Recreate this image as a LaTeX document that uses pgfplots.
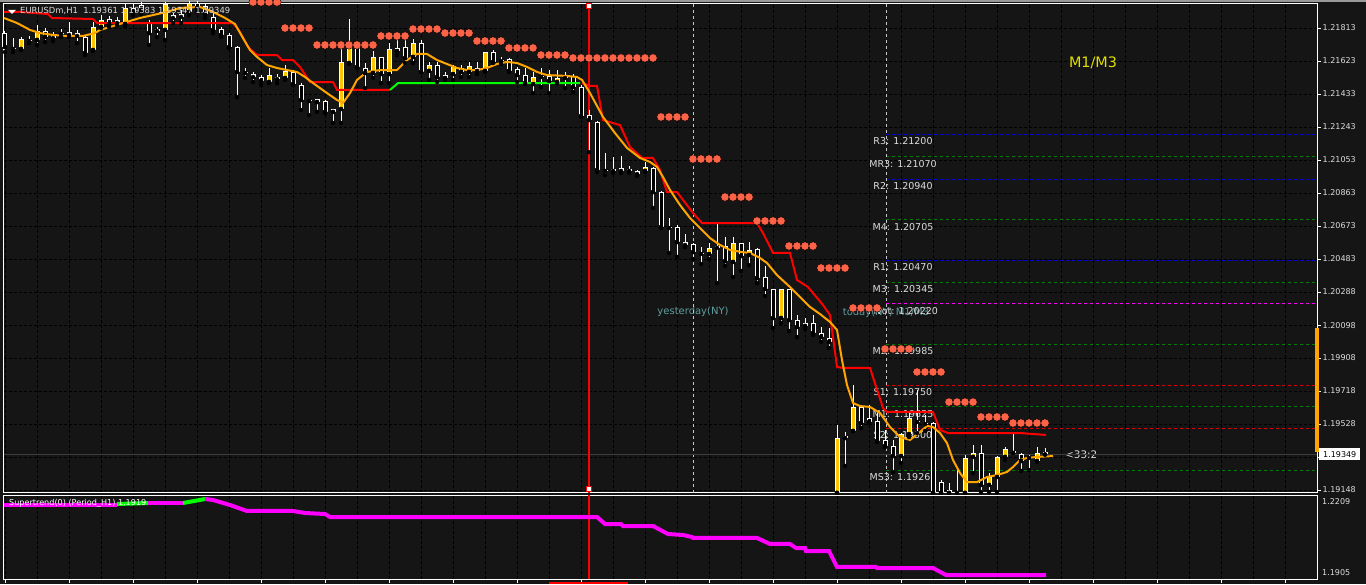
\documentclass[border=0pt]{standalone}
\usepackage{fontspec}
\setmainfont{DejaVu Sans}
\usepackage{pgfplots}
\pgfplotsset{compat=1.18}
\usepackage{pgfplotstable}

\definecolor{bgc}{RGB}{21,21,21}
\definecolor{bullc}{RGB}{255,198,0}
\definecolor{maorange}{RGB}{255,165,0}
\definecolor{dotc}{RGB}{255,99,71}
\definecolor{lblc}{RGB}{222,222,222}
\definecolor{nyc}{RGB}{95,158,160}
\definecolor{m13c}{RGB}{225,225,0}
\definecolor{rblue}{RGB}{0,0,220}
\definecolor{mgreen}{RGB}{0,128,0}
\definecolor{sred}{RGB}{220,0,0}
\definecolor{lime}{RGB}{0,255,0}
\definecolor{mag}{RGB}{255,0,255}
\definecolor{vlc}{RGB}{200,200,200}
\definecolor{pricec}{RGB}{60,60,60}

\pgfplotsset{
  cndl/.style n args={3}{only marks, mark=none, forget plot,
    error bars/y dir=plus, error bars/y explicit, error bars/error mark=none,
    error bars/error bar style={draw=#1, line width=#2, #3}},
  lvl/.style={forget plot, line width=0.8pt, dash pattern=on 3pt off 3pt},
}

% wicks: bar index, low, high
\pgfplotstableread{
i lo hi
0 1.21674 1.21796
1 1.21674 1.21755
2 1.21686 1.21761
3 1.21726 1.21767
4 1.21715 1.21830
5 1.21732 1.21813
6 1.21738 1.21790
7 1.21761 1.21807
8 1.21761 1.21848
9 1.21726 1.21802
10 1.21657 1.21773
11 1.21680 1.21848
12 1.21813 1.21888
13 1.21819 1.21883
14 1.21830 1.21877
15 1.21825 1.21952
16 1.21888 1.21958
17 1.21894 1.21963
18 1.21715 1.21859
19 1.21761 1.21819
20 1.21744 1.21963
21 1.21842 1.21900
22 1.21842 1.21917
23 1.21888 1.21969
24 1.21906 1.21969
25 1.21871 1.21952
26 1.21784 1.21900
27 1.21761 1.21819
28 1.21698 1.21784
29 1.21414 1.21709
30 1.21524 1.21582
31 1.21501 1.21559
32 1.21484 1.21541
33 1.21495 1.21582
34 1.21495 1.21547
35 1.21513 1.21599
36 1.21484 1.21570
37 1.21339 1.21495
38 1.21310 1.21397
39 1.21328 1.21403
40 1.21322 1.21397
41 1.21264 1.21345
42 1.21264 1.21703
43 1.21605 1.21865
44 1.21582 1.21732
45 1.21466 1.21611
46 1.21524 1.21680
47 1.21495 1.21646
48 1.21495 1.21726
49 1.21657 1.21778
50 1.21611 1.21784
51 1.21611 1.21750
52 1.21559 1.21744
53 1.21513 1.21617
54 1.21501 1.21617
55 1.21513 1.21559
56 1.21513 1.21599
57 1.21530 1.21599
58 1.21530 1.21617
59 1.21547 1.21617
60 1.21559 1.21674
61 1.21611 1.21686
62 1.21605 1.21646
63 1.21559 1.21640
64 1.21501 1.21588
65 1.21489 1.21582
66 1.21437 1.21559
67 1.21472 1.21582
68 1.21437 1.21570
69 1.21495 1.21570
70 1.21466 1.21559
71 1.21443 1.21547
72 1.21299 1.21484
73 1.21096 1.21339
74 1.20981 1.21276
75 1.20963 1.21091
76 1.20975 1.21068
77 1.20975 1.21073
78 1.20975 1.21016
79 1.20958 1.20992
80 1.20981 1.21039
81 1.20773 1.21010
82 1.20657 1.20871
83 1.20513 1.20715
84 1.20490 1.20674
85 1.20547 1.20622
86 1.20478 1.20570
87 1.20449 1.20547
88 1.20478 1.20570
89 1.20339 1.20686
90 1.20438 1.20605
91 1.20374 1.20605
92 1.20409 1.20570
93 1.20443 1.20576
94 1.20339 1.20542
95 1.20264 1.20438
96 1.20079 1.20305
97 1.20108 1.20305
98 1.20062 1.20305
99 1.20027 1.20154
100 1.20073 1.20137
101 1.20039 1.20154
102 1.19998 1.20085
103 1.19964 1.20079
104 1.19126 1.19518
105 1.19282 1.19478
106 1.19484 1.19750
107 1.19501 1.19634
108 1.19530 1.19634
109 1.19420 1.19588
110 1.19391 1.19490
111 1.19247 1.19432
112 1.19299 1.19472
113 1.19449 1.19588
114 1.19472 1.19721
115 1.19484 1.19576
116 1.19126 1.19536
117 1.19126 1.19201
118 1.19126 1.19183
119 1.19126 1.19276
120 1.19126 1.19345
121 1.19241 1.19403
122 1.19131 1.19403
123 1.19131 1.19241
124 1.19131 1.19339
125 1.19316 1.19391
126 1.19357 1.19478
127 1.19253 1.19357
128 1.19258 1.19345
129 1.19305 1.19391
130 1.19347 1.19383
}\wicks

% bull bodies: open (bottom) to close (top)
\pgfplotstableread{
i bot top
2 1.21692 1.21750
4 1.21744 1.21796
11 1.21686 1.21819
12 1.21819 1.21859
15 1.21836 1.21929
20 1.21802 1.21952
23 1.21906 1.21958
33 1.21501 1.21541
35 1.21524 1.21565
39 1.21385 1.21403
41 1.21328 1.21345
42 1.21345 1.21617
43 1.21611 1.21732
46 1.21553 1.21646
48 1.21547 1.21692
49 1.21680 1.21698
51 1.21646 1.21726
53 1.21565 1.21599
55 1.21524 1.21541
56 1.21547 1.21594
58 1.21559 1.21594
60 1.21565 1.21674
66 1.21489 1.21530
69 1.21501 1.21524
80 1.20987 1.21010
88 1.20507 1.20542
91 1.20461 1.20570
93 1.20501 1.20530
97 1.20137 1.20305
100 1.20091 1.20108
104 1.19126 1.19443
105 1.19443 1.19455
106 1.19484 1.19623
112 1.19339 1.19466
113 1.19466 1.19559
120 1.19126 1.19328
121 1.19334 1.19357
123 1.19172 1.19218
124 1.19218 1.19334
125 1.19334 1.19380
129 1.19310 1.19357
}\bull

% bear bodies: close (bottom) to open (top)
\pgfplotstableread{
i bot top
0 1.21703 1.21784
5 1.21761 1.21796
10 1.21669 1.21761
13 1.21836 1.21865
16 1.21906 1.21929
17 1.21917 1.21946
18 1.21784 1.21848
24 1.21929 1.21958
25 1.21894 1.21940
26 1.21802 1.21877
27 1.21773 1.21807
28 1.21703 1.21773
29 1.21559 1.21703
32 1.21507 1.21530
36 1.21489 1.21559
37 1.21397 1.21484
40 1.21328 1.21391
44 1.21588 1.21726
45 1.21553 1.21582
47 1.21547 1.21646
50 1.21640 1.21703
52 1.21559 1.21726
54 1.21530 1.21599
57 1.21559 1.21582
61 1.21617 1.21674
63 1.21565 1.21634
64 1.21541 1.21576
65 1.21495 1.21541
68 1.21507 1.21536
71 1.21472 1.21536
72 1.21304 1.21472
73 1.21281 1.21310
74 1.20992 1.21270
81 1.20865 1.21004
82 1.20663 1.20865
84 1.20576 1.20663
86 1.20518 1.20565
90 1.20466 1.20553
92 1.20495 1.20570
94 1.20368 1.20536
95 1.20305 1.20374
96 1.20137 1.20305
98 1.20125 1.20305
99 1.20085 1.20125
101 1.20050 1.20108
102 1.20027 1.20050
103 1.19998 1.20021
107 1.19530 1.19623
108 1.19536 1.19559
109 1.19426 1.19542
110 1.19397 1.19432
111 1.19339 1.19397
116 1.19126 1.19530
117 1.19126 1.19189
118 1.19126 1.19143
122 1.19172 1.19357
127 1.19310 1.19351
}\bear

% very small bodies and dojis
\pgfplotstableread{
i bot top
1 1.21692 1.21698
3 1.21738 1.21744
6 1.21755 1.21773
7 1.21778 1.21784
8 1.21773 1.21790
9 1.21767 1.21784
14 1.21842 1.21859
19 1.21796 1.21807
21 1.21871 1.21888
22 1.21877 1.21894
30 1.21553 1.21559
31 1.21530 1.21547
34 1.21518 1.21530
38 1.21391 1.21397
59 1.21565 1.21582
62 1.21622 1.21628
67 1.21530 1.21536
70 1.21524 1.21536
75 1.20987 1.20992
76 1.20987 1.20998
77 1.20987 1.21004
78 1.20987 1.20998
79 1.20969 1.20987
83 1.20657 1.20663
85 1.20559 1.20576
87 1.20507 1.20513
89 1.20542 1.20553
114 1.19536 1.19542
115 1.19524 1.19530
126 1.19357 1.19368
128 1.19328 1.19334
130 1.19349 1.19361
}\small

% parabolic-style dots
\pgfplotstableread{
i p
31 1.21963
32 1.21963
33 1.21963
34 1.21963
35 1.21813
36 1.21813
37 1.21813
38 1.21813
39 1.21715
40 1.21715
41 1.21715
42 1.21715
43 1.21715
44 1.21715
45 1.21715
46 1.21715
47 1.21767
48 1.21767
49 1.21767
50 1.21767
51 1.21807
52 1.21807
53 1.21807
54 1.21807
55 1.21784
56 1.21784
57 1.21784
58 1.21784
59 1.21738
60 1.21738
61 1.21738
62 1.21738
63 1.21698
64 1.21698
65 1.21698
66 1.21698
67 1.21657
68 1.21657
69 1.21657
70 1.21657
71 1.21640
72 1.21640
73 1.21640
74 1.21640
75 1.21640
76 1.21640
77 1.21640
78 1.21640
79 1.21640
80 1.21640
81 1.21640
82 1.21299
83 1.21299
84 1.21299
85 1.21299
86 1.21056
87 1.21056
88 1.21056
89 1.21056
90 1.20836
91 1.20836
92 1.20836
93 1.20836
94 1.20698
95 1.20698
96 1.20698
97 1.20698
98 1.20553
99 1.20553
100 1.20553
101 1.20553
102 1.20426
103 1.20426
104 1.20426
105 1.20426
106 1.20195
107 1.20195
108 1.20195
109 1.20195
110 1.19958
111 1.19958
112 1.19958
113 1.19958
114 1.19825
115 1.19825
116 1.19825
117 1.19825
118 1.19651
119 1.19651
120 1.19651
121 1.19651
122 1.19565
123 1.19565
124 1.19565
125 1.19565
126 1.19530
127 1.19530
128 1.19530
129 1.19530
130 1.19530
}\dots

\begin{document}
\begin{tikzpicture}
\useasboundingbox (0,0) rectangle (1366pt,584pt);
\fill[bgc] (0,0) rectangle (1366pt,584pt);
\fill[black!40] (0,582pt) rectangle (1366pt,584pt);

\begin{axis}[
  at={(4pt,91pt)}, anchor=south west, scale only axis,
  width=1313pt, height=489pt,
  xmin=-0.125, xmax=164, ymin=1.191255, ymax=1.219519,
  clip=false,
  axis background/.style={fill=bgc},
  axis line style={white, line width=1pt},
  xtick={0,4,...,164}, xticklabels={}, xtick style={draw=none},
  xmajorgrids, ymajorgrids,
  grid style={black, line width=0.8pt, dash pattern=on 3pt off 2pt},
  scaled y ticks=false,
  ytick={1.21813,1.21622,1.21432,1.21241,1.21050,1.20859,1.20669,1.20478,1.20287,1.20096,1.19906,1.19715,1.19524,1.19334,1.19143},
  yticklabels={1.21813,1.21623,1.21433,1.21243,1.21053,1.20863,1.20673,1.20483,1.20288,1.20098,1.19908,1.19718,1.19528,{},1.19148},
  ytick pos=right, yticklabel pos=right,
  tick align=outside, major tick length=4pt,
  ytick style={white, line width=0.8pt},
  yticklabel style={font=\fontsize{8}{9}\selectfont, text=lblc, anchor=west, inner sep=0pt, xshift=1.5pt},
]
% pivot levels of the day
\addplot[lvl, rblue] coordinates {(110.125,1.21200) (163.75,1.21200)};
\addplot[lvl, mgreen] coordinates {(110.125,1.21070) (163.75,1.21070)};
\addplot[lvl, rblue] coordinates {(110.125,1.20940) (163.75,1.20940)};
\addplot[lvl, mgreen] coordinates {(110.125,1.20705) (163.75,1.20705)};
\addplot[lvl, rblue] coordinates {(110.125,1.20470) (163.75,1.20470)};
\addplot[lvl, mgreen] coordinates {(110.125,1.20345) (163.75,1.20345)};
\addplot[lvl, mag] coordinates {(110.125,1.20220) (163.75,1.20220)};
\addplot[lvl, mgreen] coordinates {(110.125,1.19985) (163.75,1.19985)};
\addplot[lvl, sred] coordinates {(110.125,1.19750) (163.75,1.19750)};
\addplot[lvl, mgreen] coordinates {(110.125,1.19625) (163.75,1.19625)};
\addplot[lvl, sred] coordinates {(110.125,1.19500) (163.75,1.19500)};
\addplot[lvl, mgreen] coordinates {(110.125,1.19258) (163.75,1.19258)};

\begin{scope}[every node/.style={text=lblc, inner sep=0pt, font=\fontsize{9.5}{11}\selectfont, yshift=-7pt}]
\node at (axis cs:112.25,1.21200) {R3: 1.21200};
\node at (axis cs:112.25,1.21070) {MR3: 1.21070};
\node at (axis cs:112.25,1.20940) {R2: 1.20940};
\node at (axis cs:112.25,1.20705) {M4: 1.20705};
\node at (axis cs:112.25,1.20470) {R1: 1.20470};
\node at (axis cs:112.25,1.20345) {M3: 1.20345};
\node at (axis cs:112.25,1.19985) {M2: 1.19985};
\node at (axis cs:112.25,1.19750) {S1: 1.19750};
\node at (axis cs:112.25,1.19625) {M1: 1.19625};
\node at (axis cs:112.25,1.19500) {S2: 1.19500};
\node at (axis cs:112.25,1.19258) {MS3: 1.19265};
\end{scope}
\node[text=nyc, inner sep=0pt, font=\fontsize{10}{12}\selectfont] at (axis cs:86,1.20172) {yesterday(NY)};
\node[text=nyc, inner sep=0pt, font=\fontsize{10}{12}\selectfont] at (axis cs:110.125,1.20166) {today(NY) M1/M3};
\node[text=lblc, inner sep=0pt, font=\fontsize{9.5}{11}\selectfont, yshift=-7pt] at (axis cs:112.25,1.20220) {Pivot: 1.20220};
\node[text=m13c, inner sep=0pt, font=\fontsize{14.4}{16}\selectfont] at (axis cs:136,1.21611) {M1/M3};
\node[text=lblc, anchor=west, inner sep=0pt, font=\fontsize{10.4}{12}\selectfont] at (axis cs:132.5,1.19345) {<33:2};

% session separators and current price
\addplot[forget plot, vlc, line width=0.8pt, dash pattern=on 3pt off 3pt] coordinates {(86,1.191255) (86,1.219519)};
\addplot[forget plot, vlc, line width=0.8pt, dash pattern=on 3pt off 3pt] coordinates {(110.125,1.191255) (110.125,1.219519)};
\addplot[forget plot, pricec, line width=0.8pt] coordinates {(-0.125,1.19349) (164,1.19349)};
\addplot[forget plot, red, line width=2pt] coordinates {(73,1.191255) (73,1.219519)};
\addplot[forget plot, only marks, mark=square*, mark size=2.5pt, mark options={draw=red, fill=white, line width=1.5pt}] coordinates {(73,1.21940) (73,1.19150)};

% candles
\addplot[cndl={white}{1pt}{}] table[x=i, y=lo, y error plus expr=\thisrow{hi}-\thisrow{lo}] {\wicks};
\addplot[cndl={white}{5pt}{}] table[x=i, y=bot, y error plus expr=\thisrow{top}-\thisrow{bot}] {\bull};
\addplot[cndl={bullc}{3pt}{shorten <=1pt, shorten >=1pt}] table[x=i, y=bot, y error plus expr=\thisrow{top}-\thisrow{bot}] {\bull};
\addplot[cndl={white}{5pt}{}] table[x=i, y=bot, y error plus expr=\thisrow{top}-\thisrow{bot}] {\bear};
\addplot[cndl={black}{3pt}{shorten <=1pt, shorten >=1pt}] table[x=i, y=bot, y error plus expr=\thisrow{top}-\thisrow{bot}] {\bear};
\addplot[cndl={white}{5pt}{}] table[x=i, y=bot, y error plus expr=\thisrow{top}-\thisrow{bot}] {\small};

% trailing stop (red / green) and moving average (orange)
\addplot[forget plot, red, line width=2pt] coordinates {
(-0.125,1.21906) (1.875,1.21906) (5.375,1.21894) (5.875,1.21871) (11,1.21865) (11.5,1.21842)
(28.5,1.21842) (29.375,1.21790) (30.375,1.21703) (31.5,1.21657) (34,1.21657) (34.625,1.21628)
(36,1.21628) (36.875,1.21588) (38.125,1.21501) (41,1.21501) (41.5,1.21455) (48.125,1.21455)};
\addplot[forget plot, lime, line width=2pt] coordinates {(48.125,1.21455) (49.125,1.21495) (71.875,1.21495)};
\addplot[forget plot, red, line width=2pt] coordinates {
(72.125,1.21495) (73.125,1.21478) (74,1.21478) (74.75,1.21281) (76.875,1.21252) (78.125,1.21125)
(79.625,1.21062) (81,1.21062) (81.875,1.20992) (82.75,1.20865) (84,1.20865) (86,1.20744)
(87.125,1.20686) (94,1.20686) (94.75,1.20628) (96,1.20513) (98.125,1.20513) (99,1.20357)
(100.375,1.20316) (102.25,1.20212) (103.125,1.20154) (104,1.19854) (104.75,1.19848) (108.125,1.19848)
(109.75,1.19617) (110.25,1.19594) (116,1.19594) (116.875,1.19490) (117.875,1.19472) (126.875,1.19472)
(130.125,1.19461)};
\addplot[forget plot, maorange, line width=2pt] coordinates {
(-0.125,1.21871) (1.5,1.21842) (3.125,1.21802) (4.375,1.21784) (6,1.21773) (7.75,1.21767)
(9.75,1.21767) (11.25,1.21784) (11.875,1.21802) (13.125,1.21819) (14.75,1.21842) (16.875,1.21871)
(18.5,1.21888) (20.25,1.21906) (21.875,1.21929) (24.375,1.21935) (26,1.21906) (27.5,1.21871)
(28.75,1.21836) (29.75,1.21755) (30.625,1.21686) (31.5,1.21646) (32.75,1.21599) (34,1.21582)
(35.25,1.21570) (36.5,1.21559) (37.5,1.21530) (38.5,1.21495) (40.25,1.21437) (41.5,1.21397)
(42.25,1.21380) (43.125,1.21437) (44,1.21513) (45.25,1.21559) (46.875,1.21570) (49,1.21570)
(50.25,1.21628) (51.5,1.21663) (52.75,1.21663) (54,1.21628) (55.25,1.21605) (56.5,1.21582)
(57.75,1.21570) (59,1.21570) (60.25,1.21582) (61.5,1.21605) (62.75,1.21617) (64,1.21611)
(65.25,1.21588) (66.5,1.21559) (67.75,1.21541) (70.25,1.21536) (71.5,1.21530) (72.125,1.21513)
(73.125,1.21437) (74.75,1.21299) (76.25,1.21206) (77.75,1.21120) (79.375,1.21062) (80.625,1.21039)
(81.5,1.21010) (82.25,1.20952) (83.125,1.20877) (84.375,1.20790) (85.625,1.20715) (86.875,1.20657)
(88.125,1.20599) (89.375,1.20559) (90.625,1.20530) (92.125,1.20518) (93.125,1.20513) (94.375,1.20484)
(95.25,1.20455) (96.5,1.20385) (98.125,1.20316) (99.375,1.20258) (100.625,1.20201) (101.875,1.20160)
(103.125,1.20114) (104,1.20068) (104.625,1.19894) (105.25,1.19750) (106,1.19646) (106.875,1.19628)
(108.125,1.19623) (109.375,1.19588) (110.625,1.19507) (111.875,1.19449) (113.125,1.19432) (114.375,1.19478)
(115.25,1.19513) (116,1.19507) (116.875,1.19472) (117.75,1.19414) (118.5,1.19316) (119.375,1.19241)
(120.25,1.19189) (121.5,1.19189) (122.75,1.19218) (124,1.19229) (125.25,1.19247) (126,1.19276)
(126.875,1.19316) (127.75,1.19328) (129,1.19334) (131,1.19339)};

\addplot[forget plot, only marks, mark=*, mark size=4.2pt, mark options={fill=dotc, draw=none}] table[x=i, y=p] {\dots};

% current bar range and price tag
\addplot[forget plot, maorange, line width=4pt] coordinates {(164,1.20079) (164,1.19362)};
\node[anchor=west, fill=white, text=black, inner xsep=4pt, inner ysep=0pt, minimum height=12pt, font=\fontsize{8}{9}\selectfont, xshift=2pt] at (axis cs:164,1.19349) {1.19349};
\end{axis}

\begin{axis}[
  at={(4pt,5pt)}, anchor=south west, scale only axis,
  width=1313pt, height=84pt,
  xmin=-0.125, xmax=164, ymin=1.18793, ymax=1.22390,
  axis background/.style={fill=bgc},
  axis line style={white, line width=1pt},
  xtick={0,8,...,160}, minor xtick={4,12,...,164}, xticklabels={},
  xmajorgrids, xminorgrids,
  grid style={black, line width=0.8pt, dash pattern=on 3pt off 2pt},
  minor grid style={black, line width=0.8pt, dash pattern=on 3pt off 2pt},
  xtick pos=bottom, tick align=outside, major tick length=4pt, minor tick length=0pt,
  xtick style={white, line width=0.8pt},
  scaled y ticks=false,
  ytick={1.2209,1.1905}, yticklabels={1.2209,1.1905},
  ytick pos=right, yticklabel pos=right, ytick style={draw=none},
  yticklabel style={font=\fontsize{8}{9}\selectfont, text=lblc, anchor=west, inner sep=0pt, xshift=1pt},
]
\addplot[forget plot, red, line width=2pt] coordinates {(73,1.18793) (73,1.22390)};
\addplot[forget plot, mag, line width=4pt] coordinates {(-0.125,1.21962) (14,1.21962)};
\addplot[forget plot, lime, line width=4pt] coordinates {(14,1.22004) (17.875,1.22047)};
\addplot[forget plot, mag, line width=4pt] coordinates {(17.875,1.22047) (22.25,1.22047)};
\addplot[forget plot, lime, line width=4pt] coordinates {(22.25,1.22047) (25,1.22218)};
\addplot[forget plot, mag, line width=4pt] coordinates {
(25,1.22218) (26,1.22176) (28.125,1.21962) (30.25,1.21705) (36,1.21705) (37.5,1.21619)
(40,1.21576) (40.625,1.21448) (74,1.21448) (75,1.21148) (77,1.21148) (77.25,1.21062)
(81,1.21062) (82.875,1.20720) (84.75,1.20677) (85.875,1.20591) (86,1.20549) (94,1.20549)
(95.625,1.20292) (98.125,1.20292) (98.875,1.20120) (100,1.20120) (100.125,1.19992) (103,1.19992)
(104,1.19307) (108.875,1.19307) (109,1.19264) (116,1.19264) (117.625,1.18964) (130.125,1.18964)};
\end{axis}

\node[anchor=west, text=white, inner sep=0pt, font=\fontsize{8.1}{9}\selectfont] at (9pt,81pt) {Supertrend(0) (Period\_H1) 1.1919};
\fill[white] (8pt,574pt) -- (16pt,574pt) -- (12pt,570pt) -- cycle;
\node[anchor=west, text=lblc, inner sep=0pt, font=\fontsize{8.4}{10}\selectfont] at (20pt,573pt) {EURUSDm,H1\ \ 1.19361 1.19383 1.19347 1.19349};
\draw[red, line width=1.5pt] (549pt,0.8pt) -- (628pt,0.8pt);
\end{tikzpicture}
\end{document}
